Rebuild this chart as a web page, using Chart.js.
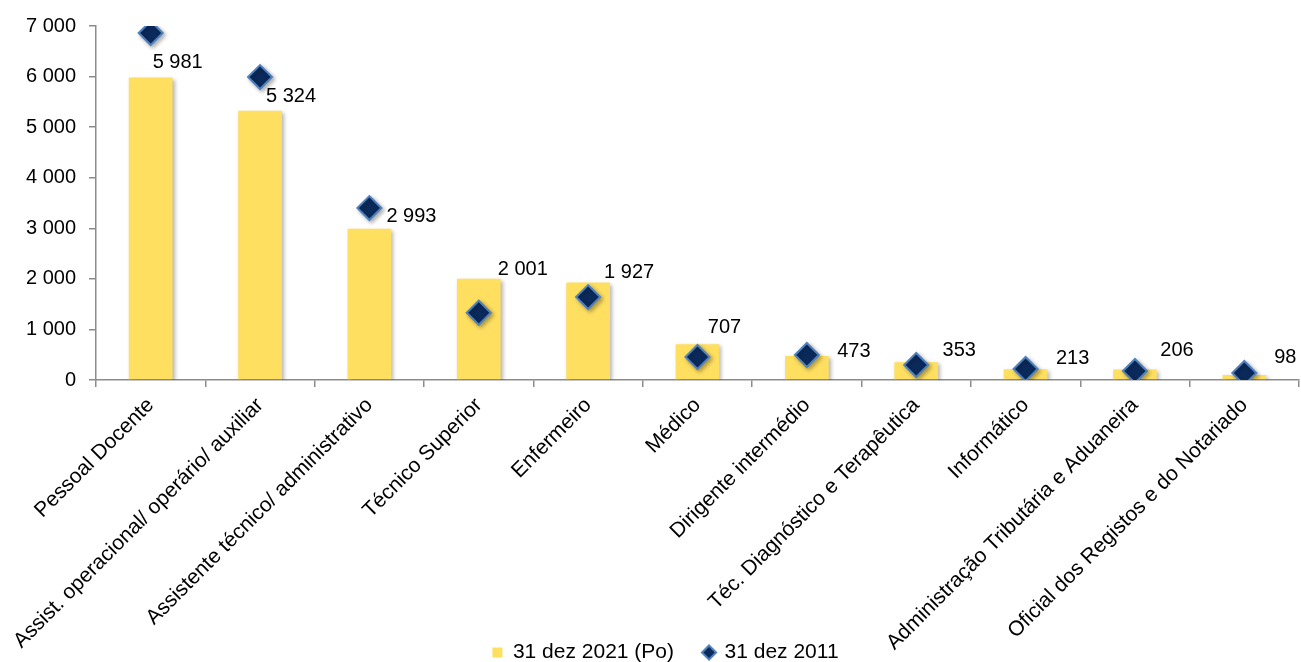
<!DOCTYPE html>
<html lang="pt">
<head>
<meta charset="utf-8">
<title>Trabalhadores por cargo/carreira</title>
<script src="https://cdn.jsdelivr.net/npm/chart.js@4.4.1/dist/chart.umd.min.js"></script>
<style>
  html, body { margin: 0; padding: 0; background: #fff; overflow: hidden; }
  #wrap { width: 1301px; height: 662px; }
  canvas { display: block; }
</style>
</head>
<body>
<div id="wrap"><canvas id="graficoCarreiras"></canvas></div>
<script>
// Categorias e valores
const carreiras = [
  'Pessoal Docente',
  'Assist. operacional/ operário/ auxiliar',
  'Assistente técnico/ administrativo',
  'Técnico Superior',
  'Enfermeiro',
  'Médico',
  'Dirigente intermédio',
  'Téc. Diagnóstico e Terapêutica',
  'Informático',
  'Administração Tributária e Aduaneira',
  'Oficial dos Registos e do Notariado'
];
const valores2021 = [5981, 5324, 2993, 2001, 1927, 707, 473, 353, 213, 206, 98];
const valores2011 = [6860, 5990, 3400, 1330, 1640, 455, 495, 297, 217, 178, 138];
const ticksY = [0, 1000, 2000, 3000, 4000, 5000, 6000, 7000];

// Deslocamento de cada rótulo em relação ao topo da barra (px)
const deslocRotulo = [[27, -15], [31, -14], [42, -12], [44, -9], [41, -10], [27, -17], [47, -5], [43, -12], [47, -11], [42, -19], [41, -18]];

const fonte = "'Liberation Sans', Arial, sans-serif";

function formatarMilhares(v) {
  return String(v).replace(/\B(?=(\d{3})+(?!\d))/g, ' ');
}

// Sombra leve nas barras e nos losangos
const sombra = {
  id: 'sombra',
  beforeDatasetDraw(chart) {
    const c = chart.ctx;
    c.save();
    c.shadowColor = 'rgba(0,0,0,0.3)';
    c.shadowBlur = 4;
    c.shadowOffsetX = 2;
    c.shadowOffsetY = 2;
  },
  afterDatasetDraw(chart) {
    chart.ctx.restore();
  }
};

// Rótulos de valor das barras
const rotulos = {
  id: 'rotulos',
  afterDatasetsDraw(chart) {
    const c = chart.ctx;
    const meta = chart.getDatasetMeta(0);
    c.save();
    c.font = '20px ' + fonte;
    c.fillStyle = '#000';
    c.textAlign = 'center';
    c.textBaseline = 'middle';
    meta.data.forEach((bar, i) => {
      const d = deslocRotulo[i];
      c.fillText(formatarMilhares(valores2021[i]), bar.x + d[0], bar.y + d[1]);
    });
    c.restore();
  }
};

// Legenda um pouco mais abaixo e à direita
const ajusteLegenda = {
  id: 'ajusteLegenda',
  afterLayout(chart) {
    const lg = chart.legend;
    lg.left += 16; lg.right += 16;
    lg.top += 11; lg.bottom += 11;
  }
};

new Chart(document.getElementById('graficoCarreiras'), {
  type: 'bar',
  data: {
    labels: carreiras,
    datasets: [
      {
        label: '31 dez 2021 (Po)',
        data: valores2021,
        backgroundColor: '#FFDF60',
        borderWidth: 0,
        barPercentage: 0.4,
        categoryPercentage: 1,
        pointStyle: 'rect',
        order: 1
      },
      {
        type: 'line',
        label: '31 dez 2011',
        data: valores2011,
        showLine: false,
        pointStyle: 'rectRot',
        pointRadius: 12,
        pointHoverRadius: 12,
        pointBackgroundColor: '#0B2A5C',
        pointBorderColor: '#4F81BD',
        pointBorderWidth: 2,
        backgroundColor: '#0B2A5C',
        borderColor: '#4F81BD',
        order: 0
      }
    ]
  },
  options: {
    responsive: true,
    maintainAspectRatio: false,
    animation: false,
    layout: { autoPadding: false, padding: { top: 26, right: 2, left: 0, bottom: 0 } },
    scales: {
      x: {
        offset: true,
        grid: { offset: true, drawOnChartArea: false, tickLength: 7, color: '#8C8C8C', lineWidth: 1.5 },
        border: { color: '#8C8C8C', width: 1.5 },
        ticks: {
          autoSkip: false,
          maxRotation: 45,
          minRotation: 45,
          padding: 6,
          color: '#000',
          font: { family: fonte, size: 21 }
        },
        afterFit(scale) {
          scale.height = 221;
          scale.paddingRight = 0;
          scale.paddingLeft = 0;
          // os rótulos inclinados descem até à zona da legenda
          scale._computeLabelArea = () => null;
        }
      },
      y: {
        min: 0,
        max: 7000,
        afterBuildTicks(scale) { scale.ticks = ticksY.map(v => ({ value: v })); },
        grid: { drawOnChartArea: false, tickLength: 7, color: '#8C8C8C', lineWidth: 1.5 },
        border: { color: '#8C8C8C', width: 1.5 },
        ticks: {
          padding: 13,
          color: '#000',
          font: { family: fonte, size: 20 },
          callback: v => formatarMilhares(v)
        },
        afterFit(scale) { scale.width = 96; }
      }
    },
    plugins: {
      legend: {
        position: 'bottom',
        labels: {
          usePointStyle: true,
          boxWidth: 10,
          boxHeight: 10,
          padding: 30,
          color: '#000',
          font: { family: fonte, size: 21 },
          sort: (a, b) => a.datasetIndex - b.datasetIndex
        }
      },
      tooltip: { enabled: false }
    }
  },
  plugins: [sombra, rotulos, ajusteLegenda]
});
</script>
</body>
</html>
